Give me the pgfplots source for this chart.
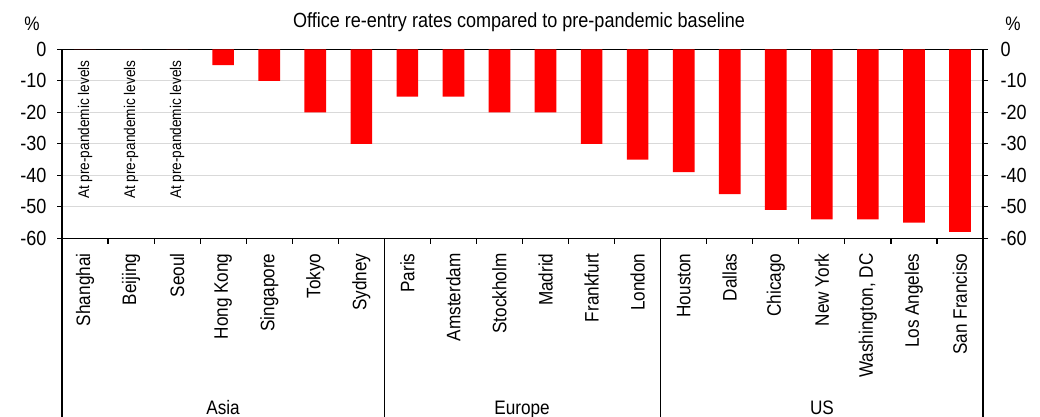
\documentclass[border=0pt]{standalone}
\usepackage{pgfplots}
\pgfplotsset{compat=1.18}
\usepackage{fontspec}
\setmainfont{Liberation Sans}[FakeStretch=0.88]

\definecolor{barred}{RGB}{255,0,0}
\definecolor{gridgray}{RGB}{217,217,217}

\pgfplotsset{
  officeaxis/.style={
    at={(62pt,178.7pt)}, anchor=south west,
    width=921pt, height=189pt, scale only axis,
    xmin=-0.5, xmax=19.5, ymin=-60, ymax=0,
    ytick={-60,-50,...,0},
    axis line style={line width=1.5pt, black},
    tick align=outside,
    major tick length=5pt,
    ytick style={line width=1.2pt, black},
    /pgf/number format/assume math mode=true,
    yticklabel style={font=\fontsize{20.5}{21}\selectfont},
  }
}

\begin{document}
\begin{tikzpicture}[x=1pt,y=1pt]
\begin{axis}[
  officeaxis,
  ytick pos=left,
  yticklabel shift=7pt,
  ymajorgrids,
  grid style={gridgray, line width=1.2pt},
  xtick={0,...,19},
  xtick style={draw=none},
  xticklabels={Shanghai, Beijing, Seoul, Hong Kong, Singapore, Tokyo, Sydney,
    Paris, Amsterdam, Stockholm, Madrid, Frankfurt, London,
    Houston, Dallas, Chicago, New York, {Washington, DC}, Los Angeles, San Franciso},
  xticklabel shift=10pt,
  xticklabel style={rotate=90, anchor=east, inner sep=0pt,
    font=\fontsize{19.5}{20}\selectfont},
  clip=false,
]
% Office re-entry vs. pre-pandemic baseline, %
\addplot[ybar, bar width=0.47, fill=barred, draw=none] coordinates {
  (0,0) (1,0) (2,0)
  (3,-5) (4,-10) (5,-20) (6,-30)
  (7,-15) (8,-15) (9,-20) (10,-20) (11,-30) (12,-35)
  (13,-39) (14,-46) (15,-51) (16,-54) (17,-54) (18,-55) (19,-58)
};
% cities already back at baseline
\pgfplotsinvokeforeach{0,1,2}{
  \node[rotate=90, anchor=east, inner sep=0pt, font=\fontsize{15.5}{16}\selectfont]
    at (axis cs:#1,-3.4) {At pre-pandemic levels};
}
% category boundary ticks
\pgfplotsinvokeforeach{0.5,1.5,2.5,3.5,4.5,5.5,6.5,7.5,8.5,9.5,10.5,11.5,12.5,13.5,14.5,15.5,16.5,17.5,18.5}{
  \draw[line width=1.2pt] (axis cs:#1,-60) -- ++(0pt,-6pt);
}
% region separators
\pgfplotsinvokeforeach{-0.5,19.5}{
  \draw[line width=1.5pt] (axis cs:#1,-60) -- ++(0pt,-190pt);
}
\pgfplotsinvokeforeach{6.5,12.5}{
  \draw[line width=1.1pt] (axis cs:#1,-60) -- ++(0pt,-190pt);
}
\end{axis}

\begin{axis}[
  officeaxis,
  axis x line=none,
  axis y line*=right,
  yticklabel shift=9pt,
]
\end{axis}

\node[font=\fontsize{20.5}{21}\selectfont] at (519pt,395pt)
  {Office re-entry rates compared to pre-pandemic baseline};
\node[font=\fontsize{19.5}{20}\selectfont] at (32pt,393pt) {\%};
\node[font=\fontsize{19.5}{20}\selectfont] at (1013pt,393pt) {\%};

\begin{scope}[font=\fontsize{19.5}{20}\selectfont]
\node[anchor=base] at (223pt,2.5pt) {Asia};
\node[anchor=base] at (522pt,2.5pt) {Europe};
\node[anchor=base] at (822pt,2.5pt) {US};
\end{scope}

\pgfresetboundingbox
\useasboundingbox (0,0) rectangle (1040pt,417pt);
\end{tikzpicture}
\end{document}
